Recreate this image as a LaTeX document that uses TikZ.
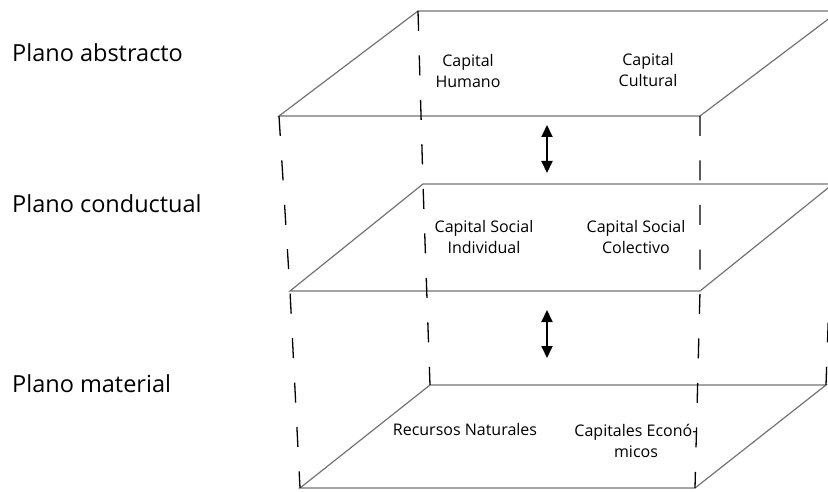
\documentclass[tikz,border=0pt]{standalone}
\usepackage{fontspec}
\setmainfont{Open Sans}
\usetikzlibrary{arrows.meta}
\begin{document}
\begin{tikzpicture}[x=1pt,y=-1pt,
  plane/.style={draw=black!55, line width=1.2pt, line join=miter},
  pillar/.style={draw=black, line width=1.3pt, dash pattern=on 20pt off 24.5pt},
  link/.style={draw=black, line width=2pt, {Triangle[width=11pt,length=12pt]}-{Triangle[width=11pt,length=12pt]}},
  level/.style={anchor=base west, inner sep=0pt, font=\fontsize{23.5}{28}\selectfont},
  captext/.style={anchor=base, inner sep=0pt, align=center, font=\fontsize{16}{21}\selectfont}]
\useasboundingbox (0,0) rectangle (828,492);
\clip (0,0) rectangle (828,492);
% plane corners
\coordinate (A1) at (279,116); \coordinate (B1) at (700,116);
\coordinate (C1) at (839,11);  \coordinate (D1) at (418,11);
\coordinate (A2) at (290,291); \coordinate (B2) at (700,291);
\coordinate (C2) at (833,184); \coordinate (D2) at (423,184);
\coordinate (A3) at (300,488); \coordinate (B3) at (695,488);
\coordinate (C3) at (826,385); \coordinate (D3) at (430,385);
% planes
\draw[plane] (A1) -- (B1) -- (C1) -- (D1) -- cycle;
\draw[plane] (A2) -- (B2) -- (C2) -- (D2) -- cycle;
\draw[plane] (A3) -- (B3) -- (C3) -- (D3) -- cycle;
% dashed pillars
\draw[pillar] (A1) -- (A2) -- (A3);
\draw[pillar] (B1) -- (B2) -- (B3);
\draw[pillar] (D1) -- (D2) -- (D3);
\draw[pillar] (C1) -- (C2) -- (C3);
% arrows
\coordinate (u1) at (547,125); \coordinate (u2) at (547,173);
\coordinate (v1) at (547,310); \coordinate (v2) at (547,358);
\draw[link] (u1) -- (u2);
\draw[link] (v1) -- (v2);
% level labels
\node[level] (l1) at (12,62) {Plano abstracto};
\node[level] (l2) at (12,212) {Plano conductual};
\node[level] (l3) at (12,392) {Plano material};
% capital labels (anchor = baseline of last line)
\node[captext] (h) at (468,88) {Capital\\Humano};
\node[captext] (c) at (648,87) {Capital\\Cultural};
\node[captext] (si) at (484,254) {Capital Social\\Individual};
\node[captext] (sc) at (636,254) {Capital Social\\Colectivo};
\node[captext] (rn) at (465,435) {Recursos Naturales};
\node[captext] (ce) at (636,457) {Capitales Econó-\\micos};
\end{tikzpicture}
\end{document}
